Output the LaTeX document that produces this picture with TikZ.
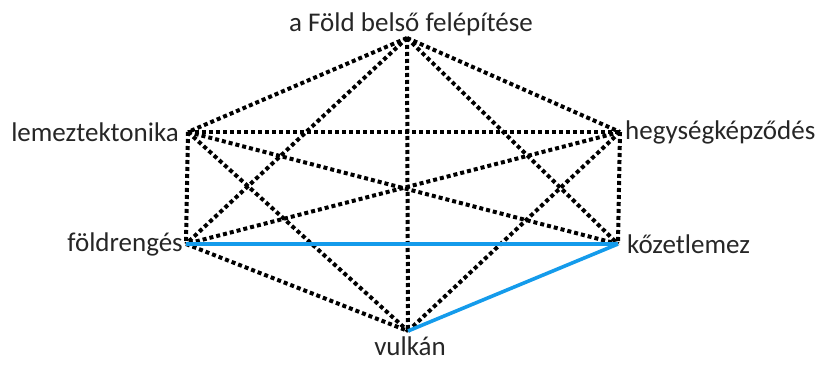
\documentclass[tikz,border=0pt]{standalone}
\usepackage{fontspec}
\setmainfont{Carlito}
\definecolor{edgeblue}{RGB}{20,155,235}
\begin{document}
\begin{tikzpicture}[x=1pt,y=1pt,
  dotedge/.style={line width=4pt, dash pattern=on 4pt off 3pt},
  blueedge/.style={line width=3.6pt, draw=edgeblue},
  lbl/.style={font=\fontsize{27}{32}\selectfont, inner sep=2pt, text=black!85}]
\useasboundingbox (0,0) rectangle (821,367);
\coordinate (T) at (407,329);
\coordinate (L) at (188,235);
\coordinate (H) at (620,235);
\coordinate (F) at (186,123);
\coordinate (K) at (618,123);
\coordinate (V) at (408,36);
\node[lbl, anchor=south] (tT) at (411,329) {a Föld belső felépítése};
\node[lbl, anchor=east] (tL) at (181,235) {lemeztektonika};
\node[lbl, anchor=west] (tH) at (623,235) {hegységképződés};
\node[lbl, anchor=east] (tF) at (185,123) {földrengés};
\node[lbl, anchor=west] (tK) at (625,123) {kőzetlemez};
\node[lbl, anchor=north] (tV) at (410,32) {vulkán};
\foreach \a/\b in {T/L,T/H,T/F,T/K,T/V,L/H,L/F,L/K,L/V,H/F,H/K,H/V,F/V}
  \draw[dotedge] (\a) -- (\b);
\draw[blueedge] (F) -- (K);
\draw[blueedge] (K) -- (V);
\end{tikzpicture}
\end{document}
